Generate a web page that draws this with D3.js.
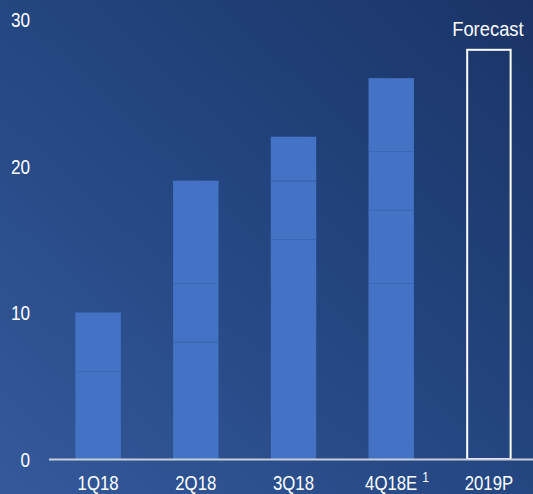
<!DOCTYPE html>
<html><head><meta charset="utf-8">
<script src="https://cdn.jsdelivr.net/npm/d3@7"></script>
<style>
html,body{margin:0;padding:0;overflow:hidden;}
svg{display:block;}
text{font-family:"Liberation Sans Narrow","Arial Narrow","Liberation Sans",Arial,sans-serif;fill:#ffffff;}
</style></head>
<body>
<script>
const categories = ["1Q18","2Q18","3Q18","4Q18E","2019P"];
const superscripts = ["","","","1",""];
// stacked segments (boundaries)
const segment1 = [6, 8, 15, 12, 0];
const segment2 = [4, 4, 4, 5, 0];
const segment3 = [0, 7, 3, 4, 0];
const segment4 = [0, 0, 0, 5, 0];
const forecastValues = [0, 0, 0, 0, 28];
const yTicks = [0, 10, 20, 30];
const forecastLabel = "Forecast";

const W = 533, H = 494;
const SX = 0.86; // horizontal squeeze to mimic a narrow font
const svg = d3.select("body").append("svg").attr("width", W).attr("height", H);

const defs = svg.append("defs");
const grad = defs.append("linearGradient").attr("id","bg")
  .attr("x1","0").attr("y1","1").attr("x2","1").attr("y2","0");
grad.append("stop").attr("offset","0").attr("stop-color","#35599b");
grad.append("stop").attr("offset","0.5").attr("stop-color","#244681");
grad.append("stop").attr("offset","1").attr("stop-color","#1b3467");
svg.append("rect").attr("width",W).attr("height",H).attr("fill","url(#bg)");

const y = d3.scaleLinear().domain([0,30]).range([459,19.5]);
const x = d3.scaleBand().domain(categories).range([49,538]).paddingInner(0.535).paddingOuter(0.27);

// y tick labels (via axis, then squeezed)
const yAxis = d3.axisLeft(y).tickValues(yTicks).tickSize(0).tickPadding(0);
const ya = svg.append("g").attr("transform","translate(30,0)").call(yAxis);
ya.select(".domain").remove();
ya.selectAll(".tick text").attr("fill","#fff").attr("x",0).attr("dy","0.36em")
  .attr("transform",`scale(${SX},1)`)
  .style("font-size","20px")
  .style("font-family",'"Liberation Sans Narrow","Arial Narrow","Liberation Sans",sans-serif');

// stacked bars
const series = [segment1, segment2, segment3, segment4];
const stackData = categories.map((c,i)=>{
  const o = {cat:c};
  series.forEach((s,k)=>o["s"+k]=s[i]);
  return o;
});
const stack = d3.stack().keys(series.map((s,k)=>"s"+k));
const layers = stack(stackData);
layers.forEach(layer=>{
  svg.append("g").selectAll("rect").data(layer.filter(d=>d[1]>d[0])).join("rect")
    .attr("x", d=>x(d.data.cat))
    .attr("width", x.bandwidth())
    .attr("y", d=>y(d[1]))
    .attr("height", d=>y(d[0])-y(d[1]))
    .attr("fill","#4472c4");
});
// divider lines between segments
const totals = categories.map((c,i)=>series.reduce((a,s)=>a+s[i],0));
layers.slice(0,-1).forEach(layer=>{
  svg.append("g").selectAll("line").data(layer.filter((d,i)=>d[1]>d[0] && d[1]<totals[i])).join("line")
    .attr("x1", d=>x(d.data.cat)).attr("x2", d=>x(d.data.cat)+x.bandwidth())
    .attr("y1", d=>Math.round(y(d[1]))+0.5).attr("y2", d=>Math.round(y(d[1]))+0.5)
    .attr("stroke","#3c67b3").attr("stroke-width",1);
});

// forecast outline bar
svg.append("g").selectAll("rect").data(categories.map((c,i)=>({cat:c,v:forecastValues[i]})).filter(d=>d.v>0))
  .join("rect")
  .attr("x", d=>x(d.cat)+1).attr("width", x.bandwidth()-2)
  .attr("y", d=>y(d.v)+1).attr("height", d=>y(0)-y(d.v)-1)
  .attr("fill","none").attr("stroke","#ffffff").attr("stroke-width",2);

svg.append("g").attr("transform",`translate(${x("2019P")+x.bandwidth()/2-1},36) scale(0.92,1)`)
  .append("text").attr("text-anchor","middle").style("font-size","20px").text(forecastLabel);

// baseline
svg.append("line").attr("x1",49).attr("x2",533).attr("y1",459.5).attr("y2",459.5)
  .attr("stroke","#c9ced8").attr("stroke-width",2);

// category labels
const lg = svg.append("g").selectAll("g").data(categories.map((c,i)=>({c,s:superscripts[i]}))).join("g")
  .attr("transform", d=>`translate(${x(d.c)+x.bandwidth()/2},489.5) scale(${SX},1)`);
lg.append("text").attr("text-anchor","middle").style("font-size","19.5px").text(d=>d.c);
lg.filter(d=>d.s).append("text")
  .attr("x", 36).attr("y",-8).style("font-size","14px").text(d=>d.s);
</script>
</body></html>
